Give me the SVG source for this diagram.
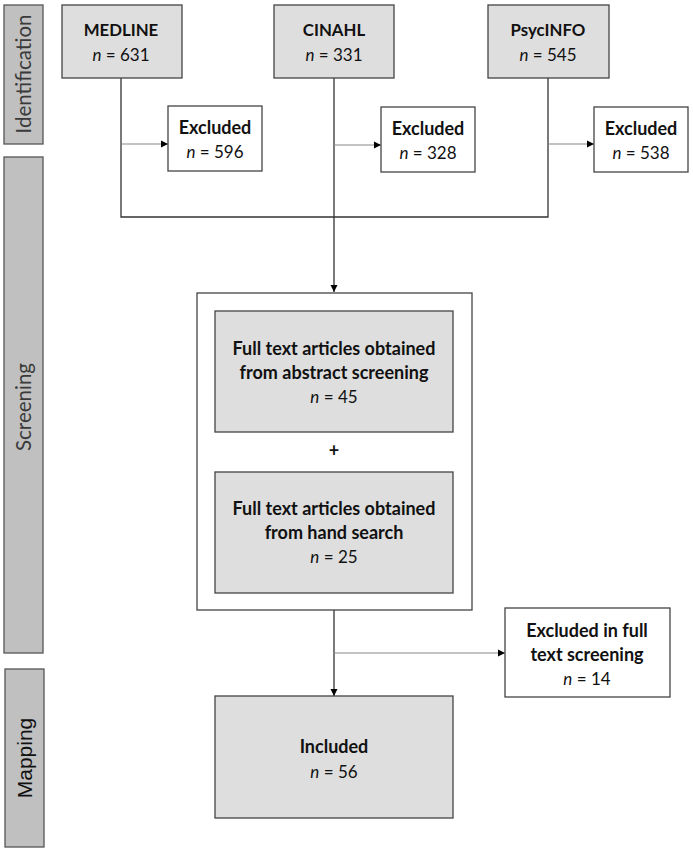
<svg xmlns="http://www.w3.org/2000/svg" width="693" height="851" viewBox="0 0 693 851">
<style>
.bar{fill:#c0c0c0;stroke:#555;stroke-width:1.3}
.gray{fill:#dedede;stroke:#444;stroke-width:1.3}
.white{fill:#fff;stroke:#444;stroke-width:1.3}
.side{font-family:Lato,"Open Sans",sans-serif;font-size:20.5px;fill:#3a3a3a;text-anchor:middle}
.t{font-family:Lato,"Liberation Sans",sans-serif;font-size:17px;fill:#111;text-anchor:middle}
.b{font-weight:bold;font-size:18px}
.db{font-size:16.8px}
.i{font-style:italic}
.line{fill:none;stroke:#333;stroke-width:1.3}
.branch{fill:none;stroke:#888;stroke-width:1.1}
</style>
<defs>
<marker id="ah" markerWidth="8" markerHeight="8" refX="7" refY="4" orient="auto" markerUnits="userSpaceOnUse">
<path d="M0,0.5 L7,4 L0,7.5 Z" fill="#000"/>
</marker>
</defs>
<rect width="693" height="851" fill="#fff"/>
<g id="bar-identification">
<rect class="bar" x="4" y="5" width="39" height="139"/>
<text class="side" transform="translate(31,74) rotate(-90)">Identification</text>
</g>
<g id="bar-screening">
<rect class="bar" x="4" y="157" width="39" height="496"/>
<text class="side" transform="translate(31,407) rotate(-90)">Screening</text>
</g>
<g id="bar-mapping">
<rect class="bar" x="5" y="669" width="39" height="178"/>
<text class="side" style="font-family:'Liberation Sans',Arial,sans-serif;font-size:21px;fill:#111" transform="translate(32,758) rotate(-90)">Mapping</text>
</g>
<g id="connectors">
<path class="line" d="M121,78 V217 H548 V78"/>
<path class="line" d="M334,78 V292" marker-end="url(#ah)"/>
<path class="branch" d="M121,144 H168" marker-end="url(#ah)"/>
<path class="branch" d="M334,145 H381" marker-end="url(#ah)"/>
<path class="branch" d="M548,144 H594" marker-end="url(#ah)"/>
<path class="line" d="M334,610 V696" marker-end="url(#ah)"/>
<path class="branch" d="M334,653 H505" marker-end="url(#ah)"/>
</g>
<g id="medline">
<rect class="gray" x="62" y="5" width="120" height="73"/>
<text class="t b db" x="121" y="36">MEDLINE</text>
<text class="t" x="121" y="61"><tspan class="i">n</tspan> = 631</text>
</g>
<g id="cinahl">
<rect class="gray" x="274" y="5" width="120" height="73"/>
<text class="t b db" x="334" y="36">CINAHL</text>
<text class="t" x="334" y="61"><tspan class="i">n</tspan> = 331</text>
</g>
<g id="psycinfo">
<rect class="gray" x="488" y="5" width="121" height="73"/>
<text class="t b db" x="548" y="36">PsycINFO</text>
<text class="t" x="548" y="61"><tspan class="i">n</tspan> = 545</text>
</g>
<g id="excl-medline">
<rect class="white" x="168" y="106" width="94" height="65"/>
<text class="t b" x="215" y="134">Excluded</text>
<text class="t" x="215" y="158"><tspan class="i">n</tspan> = 596</text>
</g>
<g id="excl-cinahl">
<rect class="white" x="381" y="107" width="94" height="65"/>
<text class="t b" x="428" y="135">Excluded</text>
<text class="t" x="428" y="159"><tspan class="i">n</tspan> = 328</text>
</g>
<g id="excl-psycinfo">
<rect class="white" x="594" y="107" width="94" height="65"/>
<text class="t b" x="641" y="135">Excluded</text>
<text class="t" x="641" y="159"><tspan class="i">n</tspan> = 538</text>
</g>
<g id="screening-container">
<rect class="white" x="197" y="293" width="275" height="317"/>
<text class="t b" x="334" y="457">+</text>
</g>
<g id="abstract-screening">
<rect class="gray" x="215" y="311" width="238" height="121"/>
<text class="t b" x="334" y="355">Full text articles obtained</text>
<text class="t b" x="334" y="379">from abstract screening</text>
<text class="t" x="334" y="403"><tspan class="i">n</tspan> = 45</text>
</g>
<g id="hand-search">
<rect class="gray" x="215" y="472" width="238" height="121"/>
<text class="t b" x="334" y="515">Full text articles obtained</text>
<text class="t b" x="334" y="539">from hand search</text>
<text class="t" x="334" y="563"><tspan class="i">n</tspan> = 25</text>
</g>
<g id="excl-fulltext">
<rect class="white" x="505" y="608" width="165" height="89"/>
<text class="t b" x="587" y="637">Excluded in full</text>
<text class="t b" x="587" y="661">text screening</text>
<text class="t" x="587" y="685"><tspan class="i">n</tspan> = 14</text>
</g>
<g id="included">
<rect class="gray" x="215" y="696" width="238" height="122"/>
<text class="t b" x="334" y="753">Included</text>
<text class="t" x="334" y="778"><tspan class="i">n</tspan> = 56</text>
</g>
</svg>
